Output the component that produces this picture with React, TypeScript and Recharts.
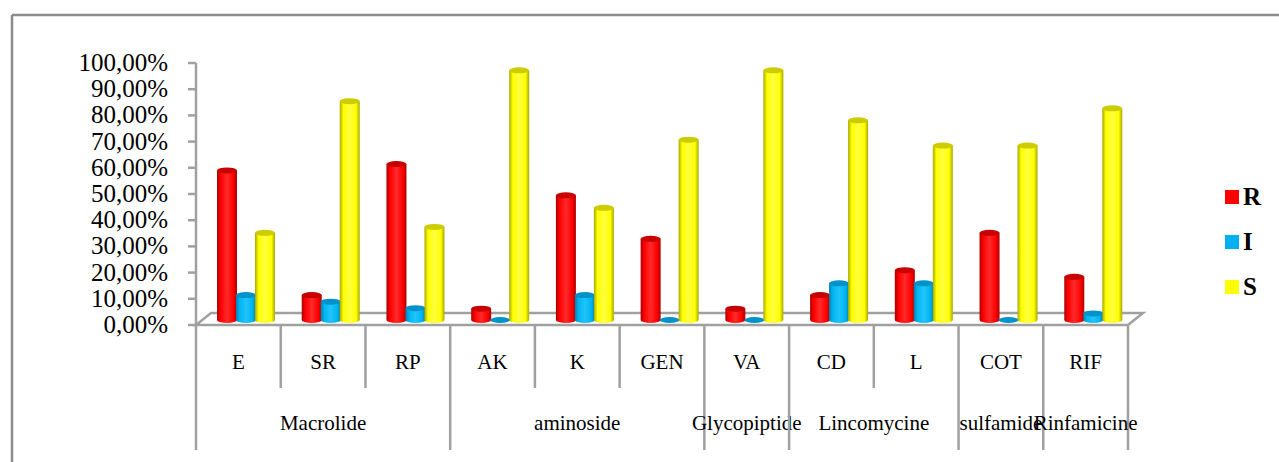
import React from "react";
import { BarChart, Bar, XAxis, YAxis, Customized } from "recharts";

const CATEGORIES = ["E", "SR", "RP", "AK", "K", "GEN", "VA", "CD", "L", "COT", "RIF"];
const GROUPS = ["Macrolide", "Macrolide", "Macrolide", "aminoside", "aminoside", "aminoside", "Glycopiptide", "Lincomycine", "Lincomycine", "sulfamide", "Rinfamicine"];
const R_VALUES = [57.1, 9.5, 59.5, 4.3, 47.6, 31.0, 4.3, 9.5, 19.0, 33.3, 16.5];
const I_VALUES = [9.5, 7.0, 4.5, 0, 9.5, 0, 0, 14.0, 14.0, 0, 2.5];
const S_VALUES = [33.3, 83.5, 35.5, 95.3, 42.8, 68.8, 95.3, 76.2, 66.6, 66.6, 80.8];
const Y_TICKS = [0, 10, 20, 30, 40, 50, 60, 70, 80, 90, 100];
const SERIES = [
  { key: "R", label: "R", color: "#FF0000" },
  { key: "I", label: "I", color: "#00B0F0" },
  { key: "S", label: "S", color: "#FFFF00" },
];

const data = CATEGORIES.map((c, i) => ({
  name: c,
  group: GROUPS[i],
  R: R_VALUES[i],
  I: I_VALUES[i],
  S: S_VALUES[i],
}));

const W = 1279;
const H = 462;
const PL = 196;
const PR = 1128;
const PT = 63;
const PB = 325;
const BW = (PR - PL) / CATEGORIES.length;
const DX = 8;
const DY = -5;
const GRAY = "#A0A0A0";
const FONT = "'Liberation Serif', 'Times New Roman', serif";

const TONES: Record<string, { dark: string; base: string; light: string; top: string }> = {
  R: { dark: "#A80000", base: "#FF0000", light: "#FF2A2A", top: "#C80000" },
  I: { dark: "#0080B0", base: "#00B4F0", light: "#20C4FA", top: "#0092C8" },
  S: { dark: "#A8A800", base: "#FFFF00", light: "#FFFF40", top: "#CCCC00" },
};

function Cylinder(props: any) {
  const { x, y, width, height, tone } = props;
  const t = TONES[tone];
  const X = x + DX;
  const Y = y + DY;
  const w = width;
  const h = Math.max(height || 0, 0);
  const rx = w / 2;
  const ry = 3;
  return (
    <g>
      {h > 0 && (
        <path
          d={`M${X},${Y} L${X},${Y + h} A${rx},${ry} 0 0 0 ${X + w},${Y + h} L${X + w},${Y} Z`}
          fill={`url(#grad-${tone})`}
        />
      )}
      <ellipse cx={X + rx} cy={Y} rx={rx} ry={ry} fill={t.top} />
    </g>
  );
}

function CategoryTick(props: any) {
  const { x, payload, index } = props;
  const left = x - BW / 2;
  const groupStart = index === 0 || GROUPS[index] !== GROUPS[index - 1];
  const isLast = index === CATEGORIES.length - 1;
  let span = 1;
  while (index + span < GROUPS.length && GROUPS[index + span] === GROUPS[index]) span++;
  return (
    <g>
      <line x1={left} y1={PB} x2={left} y2={groupStart ? 450 : 388} stroke={GRAY} strokeWidth={2.5} />
      {isLast && <line x1={left + BW} y1={PB} x2={left + BW} y2={450} stroke={GRAY} strokeWidth={2.5} />}
      <text x={x} y={369} textAnchor="middle" fontFamily={FONT} fontSize={21} fill="#000">
        {payload.value}
      </text>
      {groupStart && (
        <text x={left + (span * BW) / 2} y={430} textAnchor="middle" fontFamily={FONT} fontSize={21} fill="#000">
          {GROUPS[index]}
        </text>
      )}
    </g>
  );
}

function YTick(props: any) {
  const { x, y, payload } = props;
  return (
    <text x={x} y={y + 8} textAnchor="end" fontFamily={FONT} fontSize={25} fill="#000">
      {fmt(payload.value)}
    </text>
  );
}

function Frame() {
  return (
    <g>
      <line x1={12} y1={15} x2={12} y2={H} stroke="#8C8C8C" strokeWidth={2.5} />
      <line x1={12} y1={15} x2={W} y2={15} stroke="#8C8C8C" strokeWidth={2.5} />
      <polygon
        points={`${PL},${PB} ${PL + 15},${PB - 12} ${PR + 15},${PB - 12} ${PR},${PB}`}
        fill="none"
        stroke={GRAY}
        strokeWidth={2.5}
      />
      {SERIES.map((s, i) => {
        const cy = [197, 242, 287][i];
        return (
          <g key={s.key}>
            <rect x={1225} y={cy - 7} width={14} height={14} fill={s.color} />
            <text x={1243} y={cy + 8} fontFamily={FONT} fontSize={25} fontWeight="bold" fill="#000">
              {s.label}
            </text>
          </g>
        );
      })}
    </g>
  );
}

const fmt = (v: number) => v.toFixed(2).replace(".", ",") + "%";

export default function App() {
  return (
    <div style={{ position: "absolute", left: 0, top: 0, background: "#fff" }}>
      <BarChart
        width={W}
        height={H}
        data={data}
        margin={{ top: PT, right: W - PR, bottom: 12, left: PL - 120 }}
        barSize={20}
        barGap={-1}
      >
        <defs>
          {SERIES.map((s) => {
            const t = TONES[s.key];
            return (
              <linearGradient key={s.key} id={`grad-${s.key}`} x1="0" y1="0" x2="1" y2="0">
                <stop offset="0%" stopColor={t.dark} />
                <stop offset="18%" stopColor={t.base} />
                <stop offset="50%" stopColor={t.light} />
                <stop offset="82%" stopColor={t.base} />
                <stop offset="100%" stopColor={t.dark} />
              </linearGradient>
            );
          })}
        </defs>
        <Customized component={Frame} />
        <XAxis
          dataKey="name"
          height={H - PB - 12}
          axisLine={false}
          tickLine={false}
          interval={0}
          tick={<CategoryTick />}
        />
        <YAxis
          width={120}
          domain={[0, 100]}
          ticks={Y_TICKS}
          interval={0}
          axisLine={{ stroke: GRAY, strokeWidth: 2.5 }}
          tickLine={{ stroke: GRAY, strokeWidth: 2.5 }}
          tickSize={8}
          tickMargin={20}
          tick={<YTick />}
        />
        {SERIES.map((s) => (
          <Bar
            key={s.key}
            dataKey={s.key}
            name={s.label}
            fill={s.color}
            isAnimationActive={false}
            shape={(p: any) => <Cylinder {...p} tone={s.key} />}
          />
        ))}
      </BarChart>
    </div>
  );
}
